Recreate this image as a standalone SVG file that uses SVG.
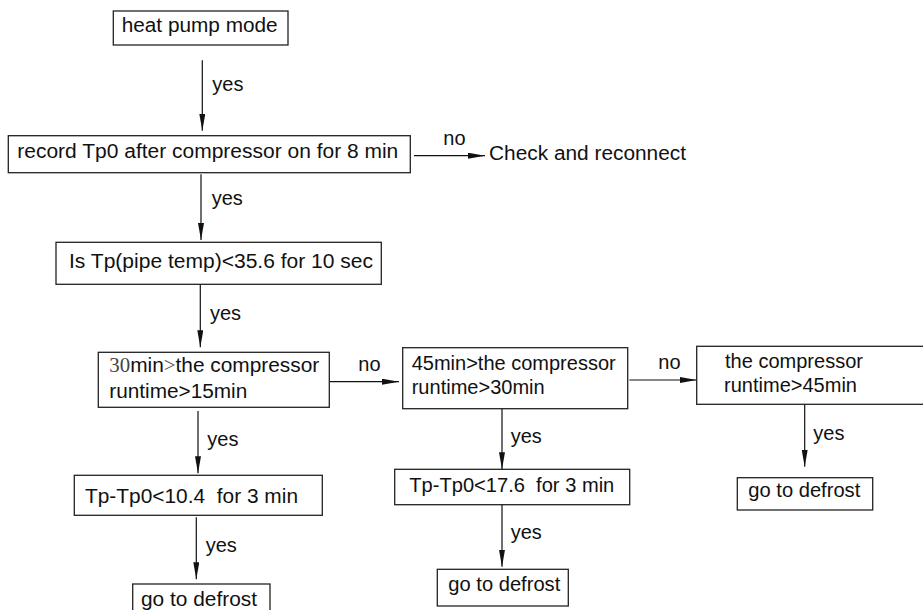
<svg xmlns="http://www.w3.org/2000/svg" width="923" height="610" viewBox="0 0 923 610">
<defs>
<style>
.box{fill:#fff;stroke:#222;stroke-width:1.3}
.t{font-family:"Liberation Sans",Arial,sans-serif;font-size:20px;fill:#111}
.lbl{font-family:"Liberation Sans",Arial,sans-serif;font-size:20px;fill:#111}
.ln{stroke:#111;stroke-width:1.2;fill:none;marker-end:url(#ah)}
</style>
<marker id="ah" markerUnits="userSpaceOnUse" markerWidth="18" markerHeight="8" refX="17" refY="3" orient="auto">
<path d="M0,0 L17,3 L0,6 z" fill="#111"/>
</marker>
</defs>
<rect width="923" height="610" fill="#fff"/>
<g id="connectors">
<line class="ln" x1="202.3" y1="60.3" x2="202.3" y2="130.7"/>
<line class="ln" x1="414" y1="155.7" x2="485" y2="155.7"/>
<line class="ln" x1="201" y1="174.3" x2="201" y2="240"/>
<line class="ln" x1="200.3" y1="284.3" x2="200.3" y2="347.3"/>
<line class="ln" x1="329.3" y1="381.7" x2="399" y2="381.7"/>
<line class="ln" x1="198" y1="411" x2="198" y2="473.3"/>
<line class="ln" x1="196.3" y1="517.3" x2="196.3" y2="579.3"/>
<line class="ln" x1="629.3" y1="380" x2="696.7" y2="380"/>
<line class="ln" x1="502" y1="408.7" x2="502" y2="469.3"/>
<line class="ln" x1="502" y1="504.7" x2="502" y2="566.7"/>
<line class="ln" x1="804.7" y1="404.3" x2="804.7" y2="466.7"/>
<text class="lbl" x="212.3" y="90.5">yes</text>
<text class="lbl" x="443.3" y="145">no</text>
<text class="lbl" x="211.7" y="205">yes</text>
<text class="lbl" x="210" y="320">yes</text>
<text class="lbl" x="358.3" y="371">no</text>
<text class="lbl" x="207.3" y="445.7">yes</text>
<text class="lbl" x="205.7" y="551.7">yes</text>
<text class="lbl" x="658.3" y="369">no</text>
<text class="lbl" x="510.7" y="442.7">yes</text>
<text class="lbl" x="510.7" y="539.3">yes</text>
<text class="lbl" x="813.3" y="440">yes</text>
</g>
<g id="n-heatpump">
<rect class="box" x="113.3" y="11" width="174.7" height="34"/>
<text class="t" x="121.7" y="31.7" textLength="156" lengthAdjust="spacingAndGlyphs">heat pump mode</text>
</g>
<g id="n-record">
<rect class="box" x="8.3" y="135.7" width="402" height="37"/>
<text class="t" x="17.3" y="157.7" textLength="381" lengthAdjust="spacingAndGlyphs">record Tp0 after compressor on for 8 min</text>
</g>
<g id="n-check">
<text class="t" x="489" y="160" textLength="197" lengthAdjust="spacingAndGlyphs">Check and reconnect</text>
</g>
<g id="n-istp">
<rect class="box" x="56" y="242.3" width="325.3" height="42"/>
<text class="t" x="69" y="268.3" textLength="304" lengthAdjust="spacingAndGlyphs">Is Tp(pipe temp)&lt;35.6 for 10 sec</text>
</g>
<g id="n-30min">
<rect class="box" x="98.3" y="352.3" width="231" height="55"/>
<text class="t" x="109.3" y="371.7" textLength="210" lengthAdjust="spacingAndGlyphs"><tspan font-family="Liberation Serif, serif" fill="#444">30</tspan>min<tspan font-family="Liberation Serif, serif" fill="#555">&gt;</tspan>the compressor</text>
<text class="t" x="109.3" y="397.7" textLength="138" lengthAdjust="spacingAndGlyphs">runtime&gt;15min</text>
</g>
<g id="n-tp104">
<rect class="box" x="74.3" y="475.3" width="248" height="40"/>
<text class="t" x="85" y="502.7" textLength="213" lengthAdjust="spacingAndGlyphs" xml:space="preserve">Tp-Tp0&lt;10.4  for 3 min</text>
</g>
<g id="n-defrost1">
<rect class="box" x="132.7" y="584" width="137.3" height="40"/>
<text class="t" x="141" y="606" textLength="116" lengthAdjust="spacingAndGlyphs">go to defrost</text>
</g>
<g id="n-45min">
<rect class="box" x="402.7" y="347.7" width="225" height="61"/>
<text class="t" x="411.7" y="370" textLength="204" lengthAdjust="spacingAndGlyphs">45min&gt;the compressor</text>
<text class="t" x="411.7" y="394" textLength="133" lengthAdjust="spacingAndGlyphs">runtime&gt;30min</text>
</g>
<g id="n-tp176">
<rect class="box" x="394.7" y="469.3" width="235" height="35.4"/>
<text class="t" x="409.3" y="491.7" textLength="205" lengthAdjust="spacingAndGlyphs" xml:space="preserve">Tp-Tp0&lt;17.6  for 3 min</text>
</g>
<g id="n-defrost2">
<rect class="box" x="437.3" y="569.3" width="131" height="36.7"/>
<text class="t" x="448.3" y="591" textLength="112" lengthAdjust="spacingAndGlyphs">go to defrost</text>
</g>
<g id="n-runtime45">
<rect class="box" x="696.7" y="346.3" width="240" height="58"/>
<text class="t" x="725" y="368.3" textLength="138" lengthAdjust="spacingAndGlyphs">the compressor</text>
<text class="t" x="724" y="392.3" textLength="133" lengthAdjust="spacingAndGlyphs">runtime&gt;45min</text>
</g>
<g id="n-defrost3">
<rect class="box" x="737.3" y="477.7" width="135.4" height="32.3"/>
<text class="t" x="748.3" y="497.3" textLength="112" lengthAdjust="spacingAndGlyphs">go to defrost</text>
</g>
</svg>
